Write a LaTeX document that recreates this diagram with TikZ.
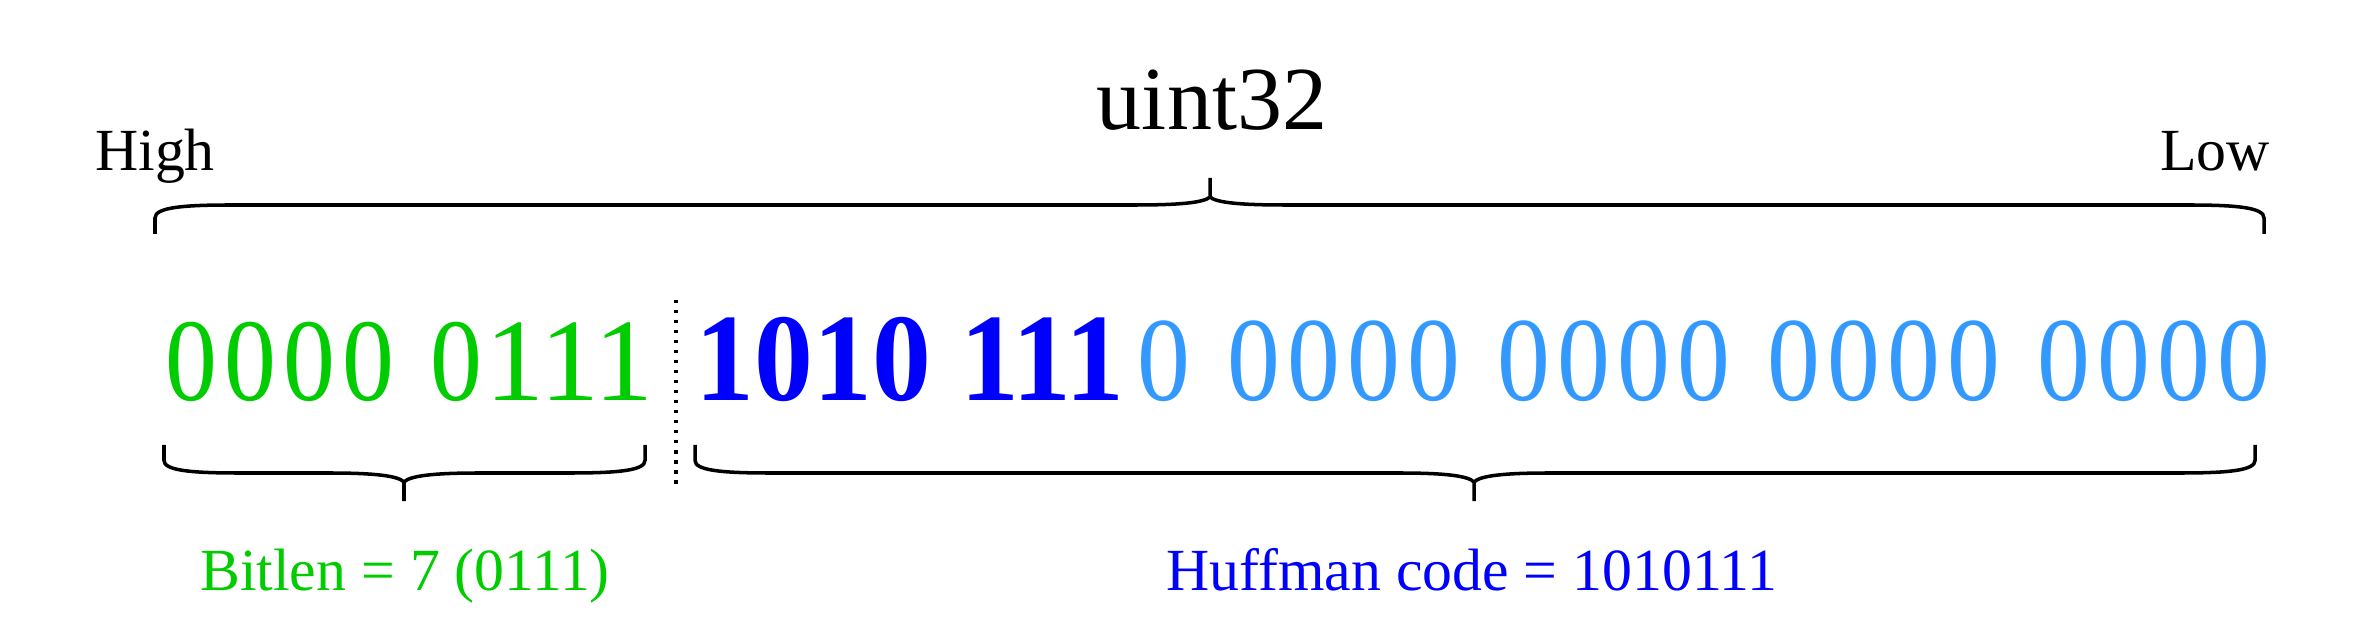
\documentclass[tikz,border=0pt]{standalone}
\usepackage{fontspec}
\setmainfont{Liberation Serif}
\definecolor{bitgreen}{RGB}{0,204,0}
\definecolor{codeblue}{RGB}{0,0,255}
\definecolor{zeroblue}{RGB}{51,153,255}
\tikzset{
  bracestyle/.style={line width=1pt, black},
  sepline/.style={line width=1pt, black, dash pattern=on 0.9pt off 1.95pt},
  txt/.style={inner sep=0pt, outer sep=0pt, anchor=base},
  digs/.style={inner sep=0pt, outer sep=0pt, anchor=base west},
  small/.style={font=\fontsize{17.0pt}{20pt}\selectfont},
  big/.style={font=\fontsize{25.6pt}{30pt}\selectfont},
  bits/.style={font=\fontsize{34.1pt}{40pt}\selectfont},
  greenbits/.style={font=\fontsize{33.5pt}{40pt}\selectfont},
  boldbits/.style={font=\fontsize{35.6pt}{42pt}\selectfont\bfseries},
}
% a narrow zero keeping the normal advance
\newcommand\nz{\makebox[0.5em]{\scalebox{0.88}[1]{0}}}
% #1 left x, #2 middle x, #3 right x, #4 end y, #5 line y, #6 cusp y, #7 tip y
\newcommand\mybrace[7]{%
  \draw[bracestyle] (#1,#4) -- (#1,{#4+(#5-#4)*0.55})
    .. controls (#1,{#5+(#4-#5)*0.1}) and (#1+25,#5) .. (#1+75,#5)
    -- (#2-75,#5) .. controls (#2-30,#5) and (#2-6,{#5+(#6-#5)*0.3}) .. (#2,#6)
    -- (#2,#7);
  \draw[bracestyle] (#2,#6)
    .. controls (#2+6,{#5+(#6-#5)*0.3}) and (#2+30,#5) .. (#2+75,#5)
    -- (#3-75,#5) .. controls (#3-25,#5) and (#3,{#5+(#4-#5)*0.1}) .. (#3,{#4+(#5-#4)*0.55})
    -- (#3,#4);
}
\begin{document}
\begin{tikzpicture}[x=0.01cm, y=-0.01cm]
\useasboundingbox (0,0) rectangle (2370,640);

% labels on top
\node[txt, big] (uint) at (1212,130) {uint32};
\node[txt, small] (high) at (155,171) {High};
\node[txt, small] (low) at (2215,171) {Low};

% top brace
\mybrace{155}{1210}{2264}{234}{205}{197}{178}

% bit rows
\node[digs, greenbits, text=bitgreen] (lenbits) at (161.8,400) {\nz\nz\nz\nz\ \nz111};
\node[digs, boldbits, text=codeblue] (codebits) at (695.5,400) {\scalebox{0.94}[1]{1010 111}};
\node[digs, bits, text=zeroblue] (padbits) at (1134.2,400) {\nz\ \nz\nz\nz\nz\ \nz\nz\nz\nz\ \nz\nz\nz\nz\ \nz\nz\nz\nz};

% separator
\coordinate (sepTop) at (676,300);
\coordinate (sepBot) at (676,485);
\draw[sepline] (sepTop) -- (sepBot);

% bottom braces
\mybrace{164}{404}{645}{445}{473}{482}{501}
\mybrace{695}{1474}{2255}{445}{473}{482}{501}

% bottom labels
\node[txt, small, text=bitgreen] (lenlabel) at (405,590) {Bitlen = 7 (0111)};
\node[txt, small, text=codeblue] (codelabel) at (1472,590) {Huffman code = 1010111};
\end{tikzpicture}
\end{document}
